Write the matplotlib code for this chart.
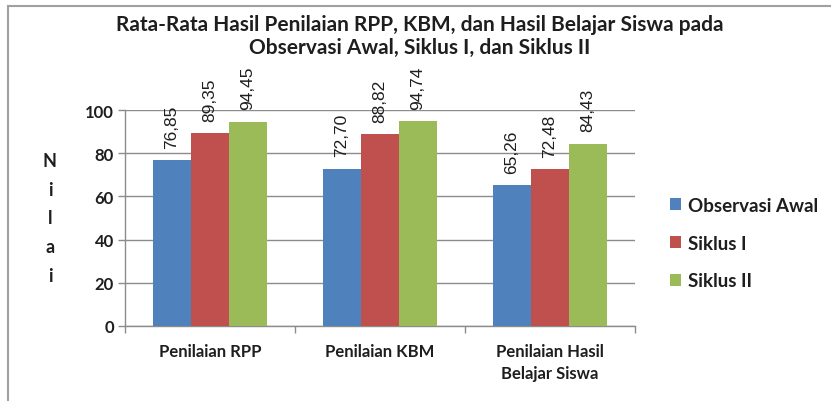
import matplotlib
matplotlib.use("Agg")
import matplotlib.pyplot as plt
import numpy as np
from matplotlib.patches import Rectangle

categories = ["Penilaian RPP", "Penilaian KBM", "Penilaian Hasil\nBelajar Siswa"]
series_names = ["Observasi Awal", "Siklus I", "Siklus II"]
observasi_awal = [76.85, 72.70, 65.26]
siklus_1 = [89.35, 88.82, 72.48]
siklus_2 = [94.45, 94.74, 84.43]
y_ticks = [0, 20, 40, 60, 80, 100]
colors = ["#4F81BD", "#C0504D", "#9BBB59"]

FONT = "Lato"
TXT = "#1e1e1e"

fig = plt.figure(figsize=(8.31, 4.02), dpi=100)
ax = fig.add_axes([125/831, 1-327/402, 510/831, 216/402])

series = [observasi_awal, siklus_1, siklus_2]
x = np.arange(len(categories))
bw = 38/170
for i, (vals, name, c) in enumerate(zip(series, series_names, colors)):
    pos = x + (i - 1) * bw
    ax.bar(pos, vals, width=bw, color=c, label=name, zorder=3)
    for xp, v in zip(pos, vals):
        ax.annotate(f"{v:.2f}".replace(".", ","), (xp, v), xytext=(0, 9),
                    textcoords="offset points", rotation=90, ha="center", va="bottom",
                    fontsize=12.5, family="Liberation Sans", color=TXT)

ax.set_xlim(-0.5, 2.5)
ax.set_ylim(0, 100)
ax.set_yticks(y_ticks)
ax.set_yticklabels([str(t) for t in y_ticks], fontsize=12, family=FONT, fontweight="bold", color=TXT)
ax.yaxis.grid(True, color="#8c8c8c", linewidth=1.0, zorder=0)
ax.set_axisbelow(True)
ax.set_xticks([-0.5, 0.5, 1.5, 2.5])
ax.set_xticklabels([])
ax.set_xticks(x, minor=True)
ax.set_xticklabels(categories, minor=True, fontsize=12, family=FONT, fontweight="bold",
                   color=TXT, linespacing=1.45)
ax.tick_params(axis="x", which="minor", length=0, pad=12)
ax.tick_params(axis="x", which="major", length=5, color="#8c8c8c", width=1.0)
ax.tick_params(axis="y", length=5, color="#8c8c8c", width=1.0, pad=3)
for s in ["top", "right"]:
    ax.spines[s].set_visible(False)
for s in ["left", "bottom"]:
    ax.spines[s].set_color("#8c8c8c")
    ax.spines[s].set_linewidth(1.0)

ax.set_ylabel("N\ni\nl\na\ni", rotation=0, fontsize=13, family=FONT, fontweight="bold",
              color=TXT, linespacing=1.85, va="center", ha="center")
ax.yaxis.set_label_coords(50/831, 1-219/402, transform=fig.transFigure)

fig.text(420/831, 1-25/402, "Rata-Rata Hasil Penilaian RPP, KBM, dan Hasil Belajar Siswa pada",
         ha="center", va="center", fontsize=15, family=FONT, fontweight="bold", color=TXT)
fig.text(420/831, 1-48/402, "Observasi Awal, Siklus I, dan Siklus II",
         ha="center", va="center", fontsize=15, family=FONT, fontweight="bold", color=TXT)

leg = fig.legend(loc="upper left", bbox_to_anchor=(670/831, 1-198/402), frameon=False,
                 prop={"family": FONT, "weight": "bold", "size": 13.5},
                 handlelength=0.6, handleheight=0.6, handletextpad=0.35, labelspacing=1.1,
                 borderaxespad=0, borderpad=0)
for t in leg.get_texts():
    t.set_color(TXT)

fig.patches.append(Rectangle((8/831, -0.1), 1.2, 1 - 7/402 + 0.1, transform=fig.transFigure,
                             fill=False, edgecolor="#a0a0a0", linewidth=1.5))

fig.savefig("out.png", dpi=100)
